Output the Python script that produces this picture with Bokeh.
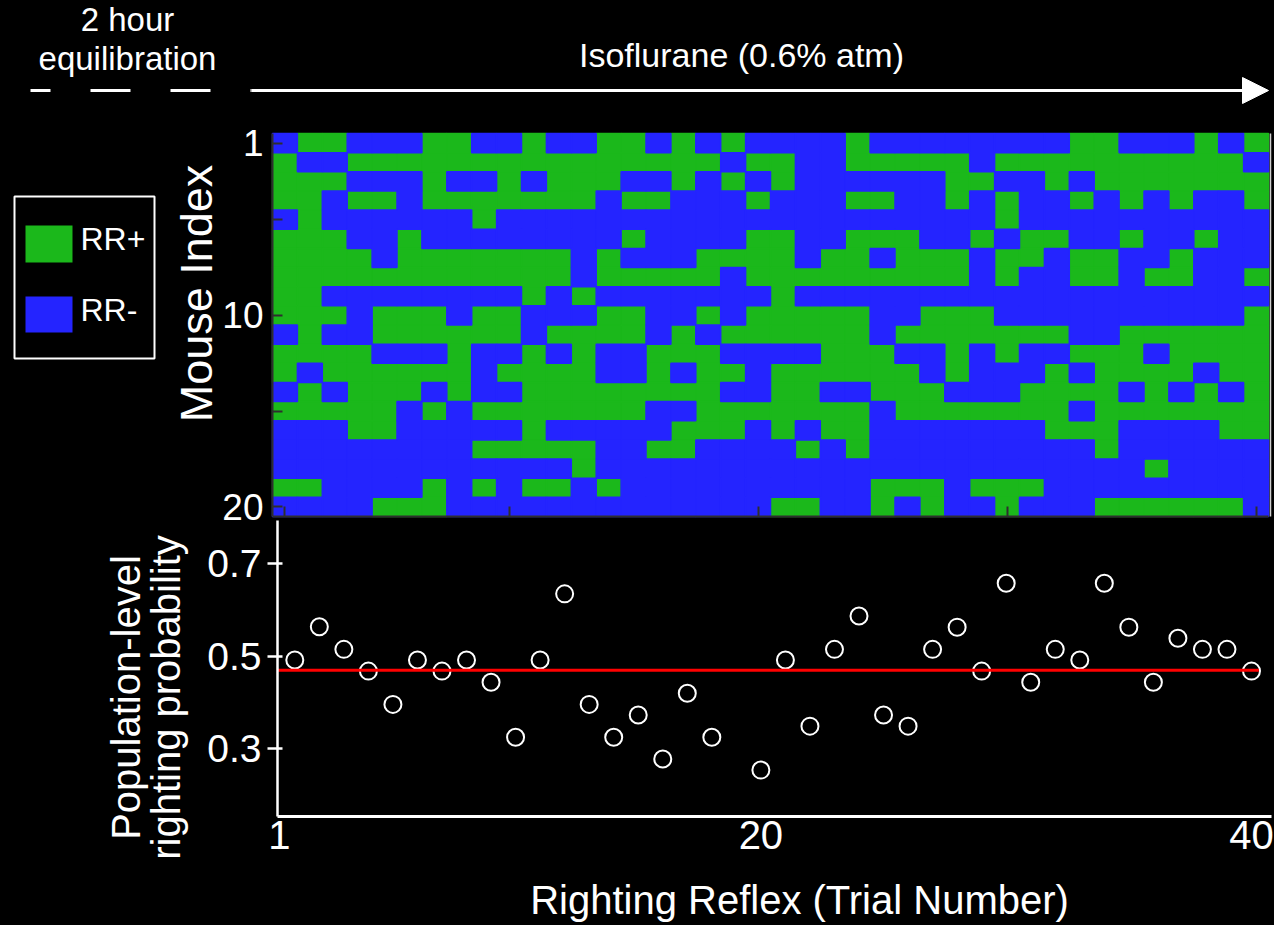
import math
from bokeh.plotting import figure
from bokeh.models import (Range1d, FixedTicker, Label, BoxAnnotation, Arrow,
                          NormalHead, ColumnDataSource, LinearAxis)
from bokeh.embed import file_html
from bokeh.resources import INLINE

FONT = "Liberation Sans"

# ---------------- data ----------------
mouse_index = list(range(1, 21))
trial_number = list(range(1, 41))
# 1 = RR+ (righting reflex present), 0 = RR- ; one string per mouse, 40 trials
righting_reflex = [
    "0110001100" "1001101010" "0001000000" "0011000101",
    "1001111111" "1111111101" "1001111101" "1111111110",
    "1110001001" "0111001010" "1000000110" "0101111111",
    "1101101111" "1110110001" "0001100101" "0010101001",
    "0100000010" "0000000000" "0000000001" "0000000000",
    "1110010000" "0000100001" "1001110010" "1100100100",
    "1111011111" "1101000111" "1011011101" "1011001000",
    "1111111111" "1101111101" "1111111101" "0011011001",
    "1100000000" "1010000000" "1000000000" "0000000000",
    "1110111011" "0001100101" "1111001110" "0000000001",
    "0100111111" "0111101011" "1111011111" "1100111111",
    "1111000100" "1010011100" "0011100101" "0011101111",
    "1011111101" "1110010110" "1111110100" "0101111011",
    "0101110100" "1111111100" "1100111000" "1111010101",
    "1111101011" "1111100111" "1111011111" "1101111111",
    "0001100000" "1000001110" "1011000000" "0111000011",
    "0000000011" "1110011000" "0101000000" "0001000000",
    "0000000000" "0010000000" "0000000000" "0000010000",
    "1100001010" "1101000000" "0000111011" "1000000000",
    "0000111000" "0000000000" "1100101001" "0001111110",
]

prob_trials = [1, 2, 3, 4, 5, 6, 7, 8, 9, 10, 11, 12, 13, 14, 15, 16, 17, 18,
               20, 21, 22, 23, 24, 25, 26, 27, 28, 29, 30, 31, 32, 33, 34, 35,
               36, 37, 38, 39, 40]
prob_values = [0.492, 0.564, 0.515, 0.468, 0.396, 0.492, 0.468, 0.492, 0.444,
               0.325, 0.492, 0.635, 0.396, 0.325, 0.373, 0.278, 0.420, 0.325,
               0.254, 0.492, 0.349, 0.515, 0.587, 0.373, 0.349, 0.515, 0.563,
               0.468, 0.658, 0.444, 0.515, 0.492, 0.658, 0.563, 0.444, 0.539,
               0.515, 0.515, 0.468]
mean_prob = 0.47

heat_yticks = [1, 10, 20]
heat_yminor = [5, 15]
heat_xminor = [1, 10, 20, 30, 40]
prob_yticks = [0.3, 0.5, 0.7]
trial_ticks = {0.375: "1", 20: "20", 40: "40"}

GREEN = "#1BB81B"
BLUE = "#2424FF"
DARK = "#2e2e2e"

# ---------------- page geometry (pixels) ----------------
W, H = 1274, 925


def hrange(v0, p0, v1, p1):
    s = (p1 - p0) / (v1 - v0)
    return Range1d(v0 - p0 / s, v0 + (W - p0) / s)


def vrange(v0, p0, v1, p1):
    # canvas y grows downward; range start is at the bottom of the frame
    s = (p1 - p0) / (v1 - v0)
    return Range1d(v0 + (H - p0) / s, v0 + (0 - p0) / s)


p = figure(width=W, height=H, x_range=Range1d(0, W), y_range=Range1d(H, 0),
           x_axis_location=None, y_axis_location=None,
           output_backend="svg", toolbar_location=None,
           min_border=0, min_border_left=0, min_border_right=0,
           min_border_top=0, min_border_bottom=0,
           background_fill_color="black", border_fill_color="black",
           outline_line_color=None)
p.grid.visible = False

p.extra_x_ranges = {
    "heat_x": hrange(0.5, 272, 40.5, 1268),
    "sc_x": hrange(1, 294.3, 40, 1251),
}
p.extra_y_ranges = {
    "heat_y": vrange(0.5, 133, 20.5, 516),
    "sc_y": vrange(0.7, 563.3, 0.3, 748.3),
}

# ---------------- heatmap ----------------
pos = dict(x=[], y=[])
neg = dict(x=[], y=[])
for m, row in zip(mouse_index, righting_reflex):
    for t, ch in zip(trial_number, row):
        d = pos if ch == "1" else neg
        d["x"].append(t)
        d["y"].append(m)
p.rect(x="x", y="y", width=1, height=1, source=ColumnDataSource(pos),
       fill_color=GREEN, line_color=GREEN, line_width=1.5,
       x_range_name="heat_x", y_range_name="heat_y")
p.rect(x="x", y="y", width=1, height=1, source=ColumnDataSource(neg),
       fill_color=BLUE, line_color=BLUE, line_width=1.5,
       x_range_name="heat_x", y_range_name="heat_y")

hy = LinearAxis(y_range_name="heat_y", fixed_location=272, bounds=(0.5, 20.5),
                ticker=FixedTicker(ticks=heat_yticks, minor_ticks=heat_yminor))
hy.major_label_text_font = FONT
hy.major_label_text_font_size = "37px"
hy.major_label_text_color = "white"
hy.major_label_standoff = 9
hy.major_tick_in = 10
hy.major_tick_out = 0
hy.minor_tick_in = 10
hy.minor_tick_out = 0
hy.axis_line_color = DARK
hy.major_tick_line_color = DARK
hy.minor_tick_line_color = DARK
hy.axis_line_width = 2
hy.major_tick_line_width = 2
hy.minor_tick_line_width = 2
p.add_layout(hy, "left")

hx = LinearAxis(x_range_name="heat_x", fixed_location=516, bounds=(0.5, 40.5),
                ticker=FixedTicker(ticks=[], minor_ticks=heat_xminor))
hx.minor_tick_in = 10
hx.minor_tick_out = 0
hx.axis_line_color = DARK
hx.minor_tick_line_color = DARK
hx.axis_line_width = 2
hx.minor_tick_line_width = 2
p.add_layout(hx, "below")

# light right edge of the heatmap box
hr = LinearAxis(y_range_name="heat_y", fixed_location=1269.5, bounds=(0.5, 20.5),
                ticker=FixedTicker(ticks=[]))
hr.axis_line_color = "#cfcfcf"
hr.axis_line_width = 1.5
hr.minor_tick_line_color = None
hr.major_tick_line_color = None
p.add_layout(hr, "right")

# ---------------- probability scatter ----------------
p.scatter(prob_trials, prob_values, marker="circle", size=17, fill_alpha=0,
          line_color="white", line_width=2,
          x_range_name="sc_x", y_range_name="sc_y")
p.line([0.295, 40.3], [mean_prob, mean_prob], line_color="#FF0000",
       line_width=3, x_range_name="sc_x", y_range_name="sc_y")

sy = LinearAxis(y_range_name="sc_y", fixed_location=277, bounds=(0.154, 0.794),
                ticker=FixedTicker(ticks=prob_yticks))
sy.major_label_text_font = FONT
sy.major_label_text_font_size = "39px"
sy.major_label_text_color = "white"
sy.major_label_standoff = 6
sy.major_tick_in = 5
sy.major_tick_out = 10
sy.minor_tick_line_color = None
sy.axis_line_color = "white"
sy.major_tick_line_color = "white"
sy.axis_line_width = 2.5
sy.major_tick_line_width = 2.5
p.add_layout(sy, "left")

sx = LinearAxis(x_range_name="sc_x", fixed_location=816, bounds=(0.295, 40.815),
                ticker=FixedTicker(ticks=list(trial_ticks)))
sx.major_label_overrides = trial_ticks
sx.major_label_text_font = FONT
sx.major_label_text_font_size = "40px"
sx.major_label_text_color = "white"
sx.major_label_standoff = 4
sx.major_tick_in = 0
sx.major_tick_out = 0
sx.minor_tick_line_color = None
sx.axis_line_color = "white"
sx.axis_line_width = 3
p.add_layout(sx, "below")


# ---------------- texts ----------------
def add_label(x, base, text, size, align="center", rotated=False):
    # 'base' is the wanted baseline; bokeh draws alphabetic text ~0.42em lower
    shift = 0.42 * size
    if rotated:
        x, y, ang = base - shift, x, math.pi / 2
    else:
        y, ang = base - shift, 0.0
    p.add_layout(Label(x=x, y=y, text=text, text_color="white",
                       text_font=FONT, text_font_size=f"{size}px",
                       text_align=align, text_baseline="alphabetic",
                       angle=ang))


add_label(127, 33, "2 hour", 33)
add_label(127, 72, "equilibration", 33)
add_label(741, 69, "Isoflurane (0.6% atm)", 34)
add_label(293, 215, "Mouse Index", 45, rotated=True)
add_label(697, 142, "Population-level", 40, rotated=True)
add_label(697, 182, "righting probability", 40, rotated=True)
add_label(799, 916, "Righting Reflex (Trial Number)", 40)

# dashed equilibration line and isoflurane arrow
p.add_layout(Arrow(x_start=30, y_start=90, x_end=251, y_end=90, end=None,
                   line_color="white", line_width=3, line_dash="40 40",
                   line_dash_offset=20))
p.add_layout(Arrow(x_start=251, y_start=90, x_end=1268, y_end=90,
                   end=NormalHead(size=26, fill_color="white",
                                  line_color="white", line_width=1),
                   line_color="white", line_width=3))

# legend box
p.add_layout(BoxAnnotation(left=14, right=154, top=196, bottom=358,
                           fill_alpha=0, line_color="white", line_alpha=1,
                           line_width=2))
p.add_layout(BoxAnnotation(left=25, right=72, top=225, bottom=262,
                           fill_color=GREEN, fill_alpha=1, line_color=None))
p.add_layout(BoxAnnotation(left=25, right=72, top=296, bottom=332,
                           fill_color=BLUE, fill_alpha=1, line_color=None))
add_label(80, 252, "RR+", 32, align="left")
add_label(80, 323, "RR-", 32, align="left")

html = file_html(p, INLINE)
html = html.replace(
    "</head>",
    "<style>html,body{margin:0;padding:0;background-color:#000000;}</style></head>",
    1)
open("out.html", "w").write(html)
